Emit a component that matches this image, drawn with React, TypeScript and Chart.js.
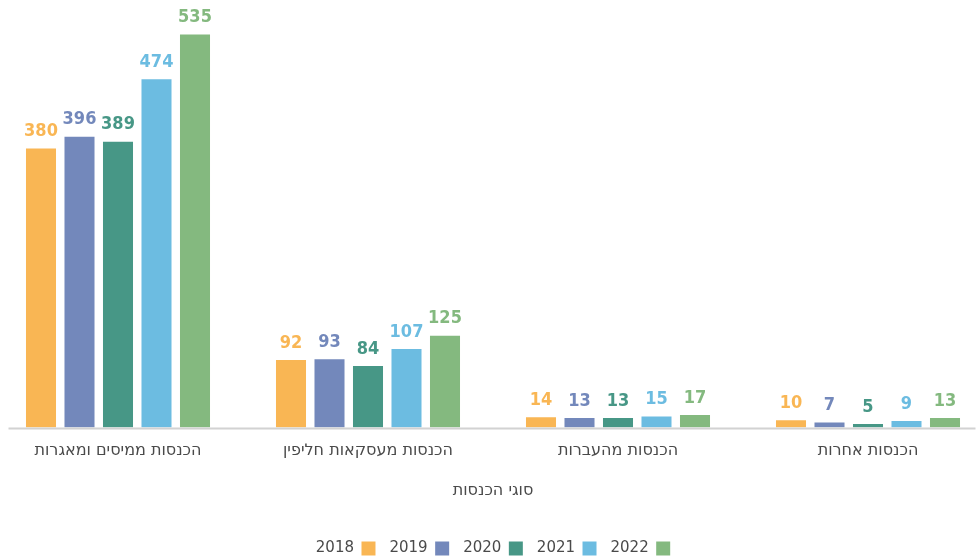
import React, { useEffect, useRef } from "react";
import { Chart, registerables } from "chart.js";

Chart.register(...registerables);

const categories = [
  "הכנסות ממיסים ומאגרות",
  "הכנסות מעסקאות חליפין",
  "הכנסות מהעברות",
  "הכנסות אחרות",
];
const years = ["2018", "2019", "2020", "2021", "2022"];
const v2018 = [380, 92, 14, 10];
const v2019 = [396, 93, 13, 7];
const v2020 = [389, 84, 13, 5];
const v2021 = [474, 107, 15, 9];
const v2022 = [535, 125, 17, 13];
const colors = ["#F9B654", "#7388BB", "#479786", "#6CBCE1", "#84B97F"];
const axisTitle = "סוגי הכנסות";

const FONT = "'DejaVu Sans', sans-serif";

const labelPlugin = {
  id: "valueLabels",
  afterDatasetsDraw(chart: any) {
    const ctx = chart.ctx;
    ctx.save();
    ctx.font = `bold condensed 18px ${FONT}`;
    try {
      (ctx as any).fontStretch = "condensed";
    } catch (e) {}
    ctx.textAlign = "center";
    ctx.textBaseline = "bottom";
    chart.data.datasets.forEach((ds: any, i: number) => {
      const meta = chart.getDatasetMeta(i);
      ctx.fillStyle = ds.backgroundColor;
      meta.data.forEach((el: any, j: number) => {
        ctx.fillText(String(ds.data[j]), el.x, el.y - 8);
      });
    });
    ctx.restore();
  },
};

const baselinePlugin = {
  id: "baseline",
  afterDatasetsDraw(chart: any) {
    const ctx = chart.ctx;
    const y = chart.chartArea.bottom + 1;
    ctx.save();
    ctx.strokeStyle = "#d2d2d2";
    ctx.lineWidth = 2;
    ctx.beginPath();
    ctx.moveTo(15.5, y);
    ctx.lineTo(982.5, y);
    ctx.stroke();
    ctx.restore();
  },
};

export default function App() {
  const ref = useRef<HTMLCanvasElement>(null);
  useEffect(() => {
    const series = [v2018, v2019, v2020, v2021, v2022];
    const textFont = { family: FONT, size: 16, style: "condensed" as any };
    const chart = new Chart(ref.current!, {
      type: "bar",
      data: {
        labels: categories,
        datasets: years.map((y, i) => ({
          label: y,
          data: series[i],
          backgroundColor: colors[i],
          categoryPercentage: 0.77,
          barPercentage: 0.78,
        })),
      },
      options: {
        animation: false,
        responsive: false,
        maintainAspectRatio: false,
        layout: { padding: { left: 0, right: 0, top: 0, bottom: 0 } },
        scales: {
          x: {
            grid: { display: false },
            border: { display: false },
            ticks: {
              color: "#4a4a4a",
              font: textFont,
              padding: 6,
            },
            title: {
              display: true,
              text: axisTitle,
              color: "#4a4a4a",
              font: textFont,
              padding: { top: 14, bottom: 27 },
            },
          },
          y: {
            display: false,
            min: 0,
            max: 582,
          },
        },
        plugins: {
          legend: {
            position: "bottom",
            rtl: true,
            reverse: true,
            textDirection: "rtl",
            labels: {
              color: "#4a4a4a",
              font: { family: FONT, size: 15, style: "condensed" as any },
              boxWidth: 14,
              boxHeight: 14,
              padding: 14,
            },
          },
          tooltip: { enabled: false },
        },
      },
      plugins: [labelPlugin, baselinePlugin],
    });
    return () => chart.destroy();
  }, []);
  return (
    <div
      style={{
        position: "fixed",
        left: 0,
        top: 0,
        width: 980,
        height: 558,
        overflow: "hidden",
        background: "#fff",
      }}
    >
      <canvas
        ref={ref}
        width={1000}
        height={566}
        style={{ position: "absolute", left: -7.5, top: 0, width: 1000, height: 566 }}
      />
    </div>
  );
}
